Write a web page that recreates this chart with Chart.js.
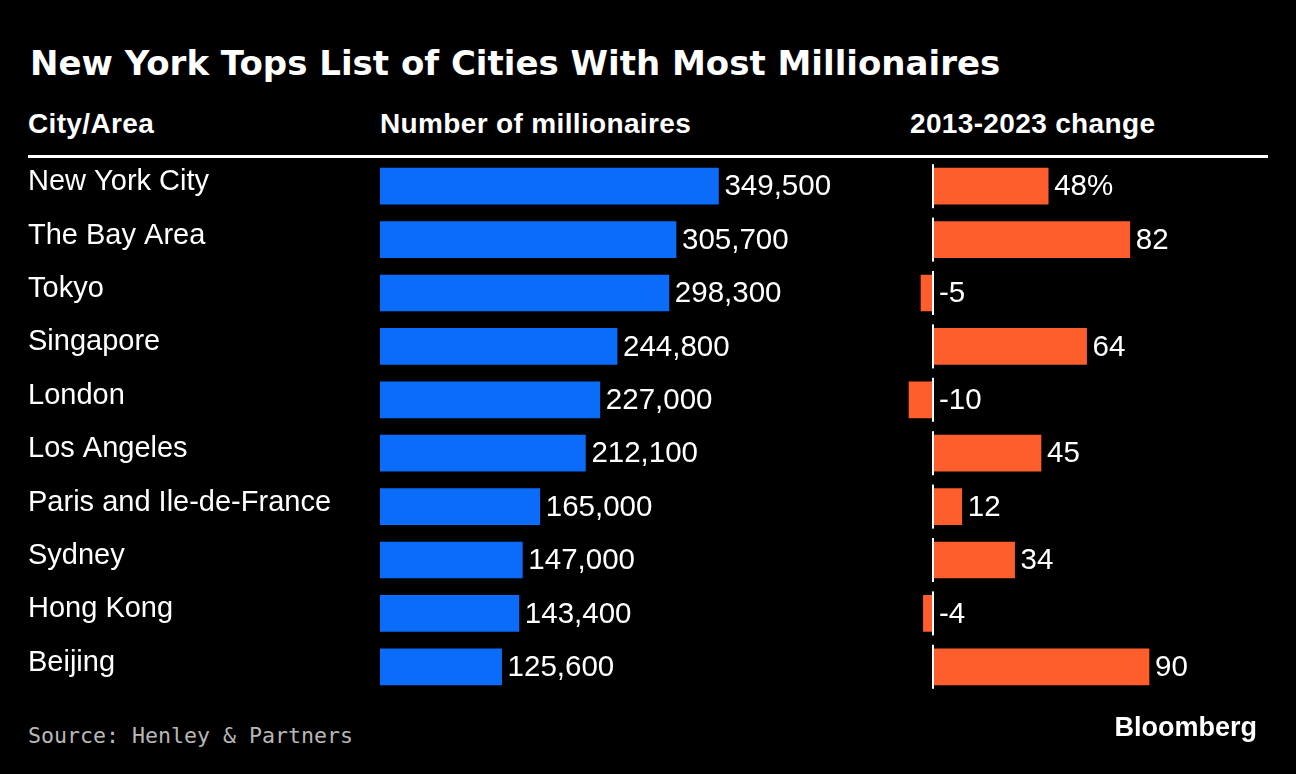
<!DOCTYPE html>
<html>
<head>
<meta charset="utf-8">
<script src="https://cdn.jsdelivr.net/npm/chart.js@4.4.1/dist/chart.umd.min.js"></script>
<style>
    html, body { margin: 0; padding: 0; background: #000; }
    #page { position: relative; width: 1296px; height: 774px; background: #000; overflow: hidden; color: #fff; font-family: "Liberation Sans", Arial, sans-serif; }
    .txt { position: absolute; white-space: nowrap; line-height: 1; }
    #title { left: 30px; top: 43px; font: bold 34px "DejaVu Sans", sans-serif; }
    .head { top: 109.5px; font-weight: bold; font-size: 28px; letter-spacing: 0.35px; }
    #rule { position: absolute; left: 28px; top: 155px; width: 1240px; height: 3px; background: #fff; }
    #source { left: 28px; top: 722.5px; font: 21.6px "DejaVu Sans Mono", monospace; color: #b8b8b8; }
    #brand { right: 39px; top: 714px; font-weight: bold; font-size: 27px; }
    #countWrap { position: absolute; left: 0; top: 150px; }
    #changeWrap { position: absolute; left: 880px; top: 150px; }
</style>
</head>
<body>
<div id="page">
    <div id="title" class="txt">New York Tops List of Cities With Most Millionaires</div>
    <div class="txt head" style="left:28px">City/Area</div>
    <div class="txt head" style="left:380px">Number of millionaires</div>
    <div class="txt head" style="left:910px">2013-2023 change</div>
    <div id="rule"></div>
    <div id="countWrap"><canvas id="countChart" width="900" height="560"></canvas></div>
    <div id="changeWrap"><canvas id="changeChart" width="416" height="560"></canvas></div>
    <div id="source" class="txt">Source: Henley &amp; Partners</div>
    <div id="brand" class="txt">Bloomberg</div>
</div>
<script>
// Data
const cities = ['New York City', 'The Bay Area', 'Tokyo', 'Singapore', 'London',
    'Los Angeles', 'Paris and Ile-de-France', 'Sydney', 'Hong Kong', 'Beijing'];
const millionaires = [349500, 305700, 298300, 244800, 227000, 212100, 165000, 147000, 143400, 125600];
const changePct = [48, 82, -5, 64, -10, 45, 12, 34, -4, 90];
const changeLabels = ['48%', '82', '-5', '64', '-10', '45', '12', '34', '-4', '90'];

const BLUE = '#0a6cf9';
const ORANGE = '#fd5e2c';

Chart.defaults.font.family = '"Liberation Sans", Arial, sans-serif';
Chart.defaults.color = '#fff';

// Draws the value text at the end of each bar (and the zero line if asked)
function barLabels(labels, zeroLine) {
    return {
        id: 'barLabels',
        afterDatasetsDraw(chart) {
            const ctx = chart.ctx;
            const meta = chart.getDatasetMeta(0);
            const zeroX = chart.scales.x.getPixelForValue(0);
            ctx.save();
            ctx.font = '29.5px "Liberation Sans", Arial, sans-serif';
            ctx.fillStyle = '#fff';
            ctx.textAlign = 'left';
            ctx.textBaseline = 'middle';
            meta.data.forEach(function(bar, i) {
                const p = bar.getProps(['x', 'y', 'base', 'height'], true);
                const endX = Math.max(p.x, p.base);
                ctx.fillText(labels[i], endX + 6, p.y + 1);
                if (zeroLine) {
                    ctx.fillRect(zeroX - 1, p.y - p.height / 2 - 4, 2, p.height + 8);
                }
            });
            ctx.restore();
        }
    };
}

const rowLayout = { top: 9.5, bottom: 16.5 };

new Chart(document.getElementById('countChart'), {
    type: 'bar',
    data: {
        labels: cities,
        datasets: [{
            data: millionaires,
            backgroundColor: BLUE,
            borderWidth: 0,
            barThickness: 36
        }]
    },
    options: {
        indexAxis: 'y',
        responsive: false,
        animation: false,
        layout: { padding: { left: 28, right: 0, top: rowLayout.top, bottom: rowLayout.bottom } },
        plugins: { legend: { display: false }, tooltip: { enabled: false } },
        scales: {
            x: { display: false, min: 0, max: 537000 },
            y: {
                grid: { display: false },
                border: { display: false },
                ticks: {
                    color: '#fff',
                    font: { size: 29 },
                    crossAlign: 'far',
                    padding: 0,
                    labelOffset: -4
                },
                afterFit: function(scale) {
                    scale.width = 352;
                    scale.paddingTop = 0;
                    scale.paddingBottom = 0;
                }
            }
        }
    },
    plugins: [barLabels(millionaires.map(v => v.toLocaleString('en-US')), false)]
});

new Chart(document.getElementById('changeChart'), {
    type: 'bar',
    data: {
        labels: cities,
        datasets: [{
            data: changePct,
            backgroundColor: ORANGE,
            borderWidth: 0,
            barThickness: 36
        }]
    },
    options: {
        indexAxis: 'y',
        responsive: false,
        animation: false,
        layout: { padding: { left: 0, right: 0, top: rowLayout.top, bottom: rowLayout.bottom } },
        plugins: { legend: { display: false }, tooltip: { enabled: false } },
        scales: {
            x: { display: false, min: -22.08, max: 151.25 },
            y: { display: false }
        }
    },
    plugins: [barLabels(changeLabels, true)]
});
</script>
</body>
</html>
